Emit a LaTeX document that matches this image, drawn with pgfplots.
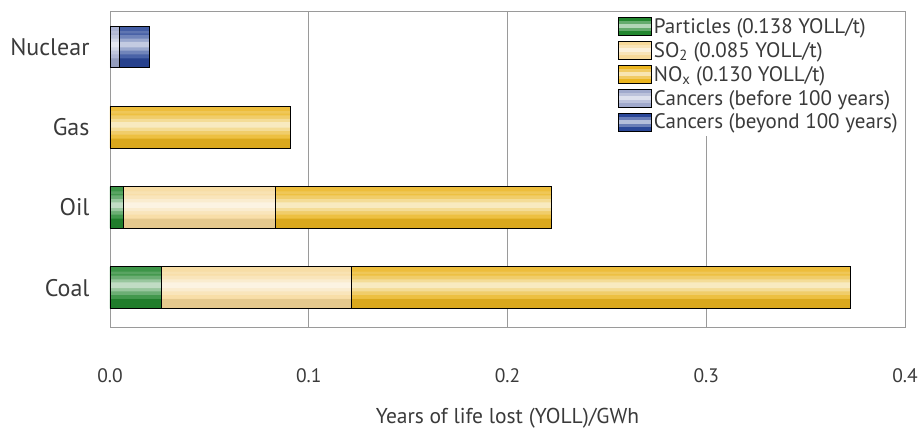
\documentclass[border=0pt]{standalone}
\usepackage{pgfplots}
\pgfplotsset{compat=1.18}
\usepackage{fontspec}
\setmainfont{PT Sans}

\definecolor{txt}{HTML}{3A3A3A}
\definecolor{axgray}{HTML}{9A9A9A}
\definecolor{part}{HTML}{23872F}
\definecolor{so2}{HTML}{F7D999}
\definecolor{nox}{HTML}{EBB520}
\definecolor{cana}{HTML}{A0A9CC}
\definecolor{canb}{HTML}{2A4798}

\pgfplotsset{
  base/.style={
    scale only axis, width=795pt, height=316pt,
    bar width=0.52,
    xmin=0, xmax=0.4, ymin=-0.49, ymax=3.45,
  },
  lg/.style={legend image code/.code={
    \path[draw=none, fill=#1] (0pt,-9pt) rectangle (33pt,9pt);
    \path[draw=none, fill=white, fill opacity=0.3] (0pt,-5pt) rectangle (33pt,5pt);
    \path[draw=none, fill=white, fill opacity=0.5] (0pt,-1.5pt) rectangle (33pt,2.5pt);
    \path[draw=black, fill=none, line width=0.9pt] (0pt,-9pt) rectangle (33pt,9pt);}},
  band/.style={draw=none, forget plot},
  edge/.style={fill=none, draw=black, line width=0.9pt, forget plot},
}

\begin{document}
\begin{tikzpicture}
\useasboundingbox (-110pt,-109pt) rectangle (814pt,327pt);
% main axis: frame, grid, labels, legend and the filled bars
\begin{axis}[
base,
xbar stacked,
xtick={0,0.1,0.2,0.3,0.4},
xticklabels={0.0,0.1,0.2,0.3,0.4},
ytick={0,1,2,3},
yticklabels={Coal,Oil,Gas,Nuclear},
major tick length=0pt,
xmajorgrids,
grid style={axgray, line width=0.8pt},
axis line style={axgray, line width=0.8pt},
/pgf/number format/assume math mode=true,
xticklabel style={font=\fontsize{19.5}{22}\selectfont, text=txt, yshift=-38pt},
yticklabel style={font=\fontsize{24}{26}\selectfont, text=txt, xshift=-17pt},
xlabel={Years of life lost (YOLL)/GWh},
xlabel style={font=\fontsize{21.5}{24}\selectfont, text=txt, yshift=-19pt},
legend style={at={(1,1)}, anchor=north east, draw=none, fill=white,
  font=\fontsize{21}{24}\selectfont, text=txt, row sep=3.5pt,
  inner xsep=4pt, inner ysep=4pt, xshift=-1pt, yshift=-1pt,
  /tikz/every even column/.append style={column sep=3pt}},
legend cell align=left,
]
\addplot[fill=part, draw=none, lg=part] coordinates {(0.026,0) (0.0067,1) (0,2) (0,3)};
\addplot[fill=so2, draw=none, lg=so2] coordinates {(0.0955,0) (0.0763,1) (0,2) (0,3)};
\addplot[fill=nox, draw=none, lg=nox] coordinates {(0.2512,0) (0.139,1) (0.091,2) (0,3)};
\addplot[fill=cana, draw=none, lg=cana] coordinates {(0,0) (0,1) (0,2) (0.005,3)};
\addplot[fill=canb, draw=none, lg=canb] coordinates {(0,0) (0,1) (0,2) (0.015,3)};
\legend{Particles (0.138 YOLL/t), SO\textsubscript{2} (0.085 YOLL/t), NO\textsubscript{x} (0.130 YOLL/t), Cancers (before 100 years), Cancers (beyond 100 years)}
\end{axis}
% light and dark bands across each bar, for its glossy look
\begin{axis}[base, hide axis, xbar]
\addplot[band, fill=white, opacity=0.15, bar width=0.34, bar shift=0.03] coordinates {(0.3727,0) (0.222,1) (0.091,2) (0.020,3)};
\addplot[band, fill=white, opacity=0.22, bar width=0.24, bar shift=0.03] coordinates {(0.3727,0) (0.222,1) (0.091,2) (0.020,3)};
\addplot[band, fill=white, opacity=0.30, bar width=0.15, bar shift=0.03] coordinates {(0.3727,0) (0.222,1) (0.091,2) (0.020,3)};
\addplot[band, fill=white, opacity=0.40, bar width=0.07, bar shift=0.03] coordinates {(0.3727,0) (0.222,1) (0.091,2) (0.020,3)};
\addplot[band, fill=white, opacity=0.12, bar width=0.09, bar shift=0.215] coordinates {(0.3727,0) (0.222,1) (0.091,2) (0.020,3)};
\addplot[band, fill=black, opacity=0.07, bar width=0.12, bar shift=-0.20] coordinates {(0.3727,0) (0.222,1) (0.091,2) (0.020,3)};
\end{axis}
% outlines
\begin{axis}[base, hide axis, xbar stacked]
\addplot[edge] coordinates {(0.026,0) (0.0067,1) (0,2) (0,3)};
\addplot[edge] coordinates {(0.0955,0) (0.0763,1) (0,2) (0,3)};
\addplot[edge] coordinates {(0.2512,0) (0.139,1) (0.091,2) (0,3)};
\addplot[edge] coordinates {(0,0) (0,1) (0,2) (0.005,3)};
\addplot[edge] coordinates {(0,0) (0,1) (0,2) (0.015,3)};
\end{axis}
\end{tikzpicture}
\end{document}
